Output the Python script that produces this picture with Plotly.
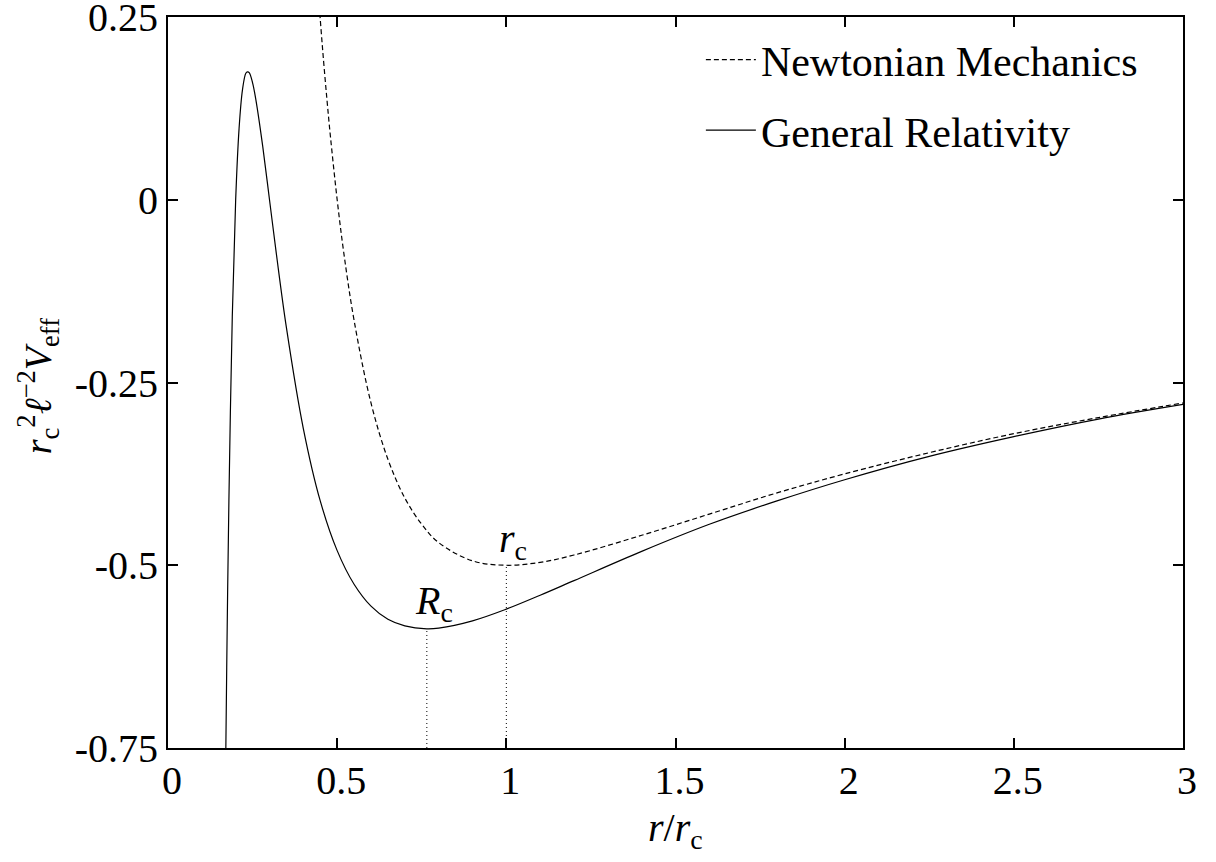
import plotly.graph_objects as go

# ---- data ----
gr_x = [0.170, 0.171, 0.175, 0.180, 0.190, 0.200, 0.210, 0.220, 0.230, 0.235, 0.240,
        0.250, 0.260, 0.280, 0.300, 0.320, 0.350, 0.400, 0.450, 0.500, 0.550, 0.600,
        0.650, 0.700, 0.765, 0.800, 0.900, 1.000, 1.100, 1.200, 1.400, 1.600, 1.800,
        2.000, 2.250, 2.500, 2.750, 3.000]
gr_y = [-0.794, -0.748, -0.583, -0.412, -0.160, 0.000, 0.097, 0.150, 0.173, 0.175, 0.174,
        0.160, 0.136, 0.073, 0.000, -0.073, -0.175, -0.313, -0.412, -0.480, -0.526, -0.556,
        -0.574, -0.583, -0.587, -0.586, -0.576, -0.560, -0.541, -0.521, -0.481, -0.444, -0.412,
        -0.383, -0.351, -0.324, -0.300, -0.280]

nm_x = [0.440, 0.450, 0.460, 0.470, 0.480, 0.500, 0.520, 0.550, 0.600, 0.650, 0.700,
        0.750, 0.800, 0.900, 1.000, 1.100, 1.200, 1.400, 1.600, 1.800, 2.000, 2.250,
        2.500, 2.750, 3.000]
nm_y = [0.310, 0.247, 0.189, 0.136, 0.087, 0.000, -0.074, -0.165, -0.278, -0.355, -0.408,
        -0.444, -0.469, -0.494, -0.500, -0.496, -0.486, -0.459, -0.430, -0.401, -0.375, -0.346,
        -0.320, -0.298, -0.278]

# minima markers (R_c for GR, r_c for Newtonian)
min_x = [0.765, 1.000]
min_y = [-0.587, -0.500]
min_labels = ["<i>R</i><sub>c</sub>", "<i>r</i><sub>c</sub>"]
label_y = [-0.551, -0.467]

x_ticks = [0, 0.5, 1, 1.5, 2, 2.5, 3]
x_tick_text = ["0", "0.5", "1", "1.5", "2", "2.5", "3"]
y_ticks = [0.25, 0, -0.25, -0.5, -0.75]
y_tick_text = ["0.25", "0", "-0.25", "-0.5", "-0.75"]

X_RANGE = [0, 3]
Y_RANGE = [-0.75, 0.25]

FONT = "Liberation Serif"
FS = 40

fig = go.Figure()

fig.add_trace(go.Scatter(
    x=nm_x, y=nm_y, mode="lines", name="Newtonian Mechanics",
    line=dict(color="black", width=1.2, dash="5px,3px", shape="spline", smoothing=1.0),
    legendgroup="a",
))
fig.add_trace(go.Scatter(
    x=gr_x, y=gr_y, mode="lines", name="General Relativity",
    line=dict(color="black", width=1.2, shape="spline", smoothing=1.0),
    legendgroup="b",
))

for mx, my in zip(min_x, min_y):
    fig.add_trace(go.Scatter(
        x=[mx, mx], y=[Y_RANGE[0], my], mode="lines", showlegend=False,
        line=dict(color="black", width=1, dash="1px,3px"),
    ))

for mx, ly, txt in zip(min_x, label_y, min_labels):
    fig.add_annotation(x=mx, y=ly, text=txt, showarrow=False, xanchor="center",
                       xshift=7, font=dict(family=FONT, size=FS, color="black"))

# y axis title
fig.add_annotation(
    xref="paper", yref="paper", x=-0.128, y=0.495, xanchor="center", yanchor="middle",
    text="<i>r</i><sub>c</sub><sup>2</sup><i>ℓ</i><sup>−2</sup><i>V</i><sub>eff</sub>",
    textangle=-90, showarrow=False, font=dict(family=FONT, size=38, color="black"),
)
# x axis title
fig.add_annotation(
    xref="paper", yref="paper", x=0.5, y=-0.112, xanchor="center", yanchor="middle",
    text="<i>r</i>/<i>r</i><sub>c</sub>", showarrow=False,
    font=dict(family=FONT, size=FS, color="black"),
)

axis_common = dict(
    showgrid=False, zeroline=False, showline=True, linecolor="black", linewidth=2,
    mirror="ticks", ticks="inside", ticklen=10, tickwidth=2, tickcolor="black",
    tickfont=dict(family=FONT, size=FS, color="black"), automargin=False,
    ticklabeloverflow="allow",
)

fig.update_layout(
    width=1216, height=862,
    margin=dict(l=168, r=33, t=17, b=114, autoexpand=False),
    paper_bgcolor="white", plot_bgcolor="white",
    font=dict(family=FONT, color="black"),
    xaxis=dict(range=X_RANGE, tickvals=x_ticks, ticktext=x_tick_text,
               ticklabelshift=4, ticklabelstandoff=-4, **axis_common),
    yaxis=dict(range=Y_RANGE, tickvals=y_ticks, ticktext=y_tick_text, **axis_common),
    showlegend=True,
    legend=dict(x=0.525, y=0.988, xanchor="left", yanchor="top",
                bgcolor="rgba(0,0,0,0)", borderwidth=0,
                font=dict(family=FONT, size=42, color="black"),
                traceorder="grouped", tracegroupgap=13, itemwidth=50),
)

fig.write_html(
    "out.html",
    config={"displayModeBar": False},
    post_script="document.body.style.margin='0';document.body.style.overflow='hidden';",
)
